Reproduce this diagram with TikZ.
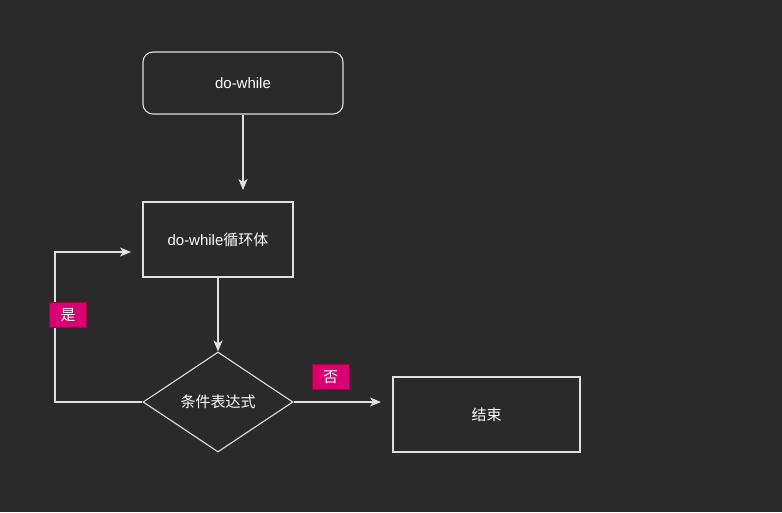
\documentclass[tikz,border=0pt]{standalone}
\usepackage{fontspec}
\setmainfont{Liberation Sans}
\newfontfamily\cjk{Noto Sans CJK SC}
\usetikzlibrary{shapes.geometric,arrows.meta}
\definecolor{bg}{HTML}{2A2A2A}
\definecolor{ln}{HTML}{E0E0E0}
\definecolor{lblfill}{HTML}{D80073}
\definecolor{lbldraw}{HTML}{A50040}
\tikzset{
  box/.style={draw=ln, line width=1.1pt, fill=bg, minimum width=150pt, minimum height=75pt, inner sep=0pt, text=white, font=\fontsize{15}{18}\selectfont},
  rbox/.style={box, rounded corners=10pt, minimum width=200pt, minimum height=62pt},
  dia/.style={draw=ln, line width=1.1pt, fill=bg, diamond, aspect=1.5, minimum width=150pt, minimum height=100pt, inner sep=0pt, text=white, font=\fontsize{15}{18}\selectfont},
  conn/.style={draw=ln, line width=1.1pt, -{Stealth[length=11pt,width=9pt,inset=3pt]}},
  lbl/.style={draw=lbldraw, line width=1pt, fill=lblfill, text=white, minimum width=37pt, minimum height=25pt, inner sep=0pt, font=\cjk\fontsize{15}{18}\selectfont}
}
\begin{document}
\begin{tikzpicture}[x=1pt,y=-1pt]
\useasboundingbox (0,0) rectangle (782,512);
\fill[bg] (0,0) rectangle (782,512);
\node[rbox] (start) at (243,83) {do-while};
\node[box] (body) at (218,239.5) {do-while{\cjk 循环体}};
\node[dia] (cond) at (218,402) {\cjk 条件表达式};
\node[box, minimum width=187pt] (end) at (486.5,414.5) {\cjk 结束};
\coordinate (starttip) at (243,190);
\coordinate (endtip) at (381,402);
\coordinate (looptip) at (131,252);
\coordinate (c1) at (55,402);
\coordinate (c2) at (55,252);
\draw[conn] (start.south) -- (starttip);
\draw[conn] (body.south) -- (cond.north);
\draw[conn] (cond.east) -- (endtip);
\draw[conn] (cond.west) -- (c1) -- (c2) -- (looptip);
\node[lbl] (yes) at (68,315) {是};
\node[lbl] (no) at (330.5,377) {否};
\end{tikzpicture}
\end{document}
